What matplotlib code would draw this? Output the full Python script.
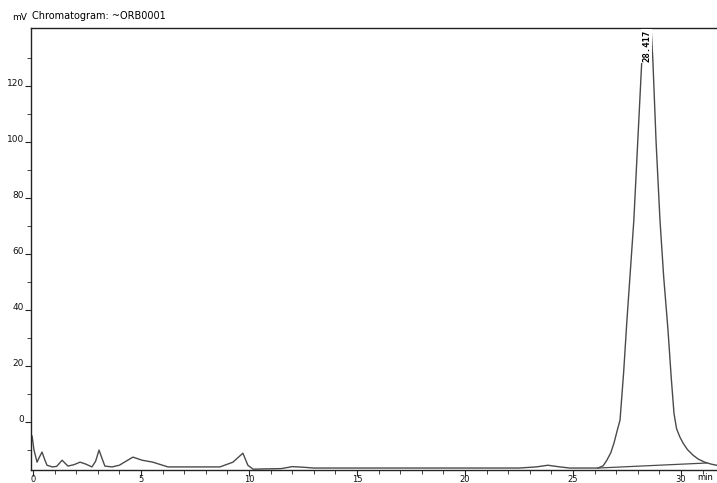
import matplotlib
matplotlib.use("Agg")
import matplotlib.pyplot as plt
from matplotlib.ticker import MultipleLocator, FixedLocator

# Chromatogram trace (time in min, signal in mV)
time_min = [-0.04, 0.05, 0.19, 0.30, 0.42, 0.55, 0.65, 0.90, 1.10, 1.35, 1.62,
            1.90, 2.18, 2.45, 2.73, 2.90, 3.06, 3.20, 3.33, 3.66, 4.00, 4.30,
            4.63, 5.05, 5.55, 6.25, 8.66, 9.26, 9.72, 9.95, 10.19, 11.5, 12.0,
            12.5, 13.0, 22.5, 23.3, 23.84, 24.4, 24.86,
            26.16, 26.40, 26.57, 26.75, 26.90, 27.05, 27.18, 27.35, 27.50,
            27.65, 27.82, 28.00, 28.19, 28.30, 28.42, 28.55, 28.70, 28.85,
            29.03, 29.20, 29.40, 29.55, 29.68, 29.80, 29.95, 30.10, 30.30,
            30.56, 30.80, 31.10, 31.40, 31.65]
signal_mv = [-5.0, -10.0, -14.3, -12.5, -10.7, -13.5, -15.4, -16.0, -15.8, -13.6,
             -15.7, -15.2, -14.3, -15.0, -16.0, -14.0, -10.0, -13.0, -15.7, -16.0,
             -15.4, -14.0, -12.5, -13.6, -14.3, -16.0, -16.0, -14.3, -11.1, -15.4,
             -16.8, -16.6, -15.9, -16.1, -16.4, -16.4, -16.0, -15.4, -16.0, -16.4,
             -16.4, -15.6, -13.6, -11.0, -7.5, -3.0, 0.7, 18.0, 36.4,
             53.0, 72.1, 100.0, 129.3, 150.0, 160.0, 150.0, 129.3, 100.0,
             72.1, 52.0, 33.0, 16.0, 3.0, -2.4, -5.3, -7.5, -9.8,
             -11.8, -13.2, -14.3, -15.0, -15.4]

# Integration baseline under the main peak
base_t = [26.16, 31.20]
base_v = [-16.4, -14.6]

y_major = [0, 20, 40, 60, 80, 100, 120]
y_minor = [-10, 10, 30, 50, 70, 90, 110, 130]

peak_rt = 28.417
peak_label = "28.417"
title = "Chromatogram: ~ORB0001"
y_unit = "mV"
x_unit = "min"

fig = plt.figure(figsize=(7.17, 4.83), dpi=100)
ax = fig.add_axes([31/717, 1-470/483, 1-31/717, (470-28)/483])

line_col = "#4a4a4a"
ax.plot(time_min, signal_mv, color=line_col, lw=1.0)
ax.plot(base_t, base_v, color=line_col, lw=0.9)

ax.set_xlim(-0.09, 31.67)
ax.set_ylim(-17.1, 140.7)

for s in ["left", "bottom", "top"]:
    ax.spines[s].set_color("#222222")
    ax.spines[s].set_linewidth(1.0)
ax.spines["right"].set_visible(False)

ax.xaxis.set_major_locator(MultipleLocator(5))
ax.xaxis.set_minor_locator(MultipleLocator(1))
ax.yaxis.set_major_locator(FixedLocator(y_major))
ax.yaxis.set_minor_locator(FixedLocator(y_minor))
ax.tick_params(axis="both", which="both", direction="out", color="#222222",
               labelsize=6.5, labelcolor="#111111")
ax.tick_params(axis="x", labelsize=6)
ax.tick_params(axis="y", which="major", length=4, pad=1)
ax.tick_params(axis="y", which="minor", length=3)
ax.tick_params(axis="x", which="major", length=4, pad=-0.5)
ax.tick_params(axis="x", which="minor", length=3)
for lab in ax.get_yticklabels():
    lab.set_verticalalignment("baseline")

fig.text(12/717, 1-18/483, y_unit, fontsize=6.5, va="center", ha="left")
fig.text(32/717, 1-16/483, title, fontsize=7, va="center", ha="left")
fig.text(713/717, 1-477/483, x_unit, fontsize=6, va="center", ha="right")

ax.text(peak_rt, 140.0, peak_label, rotation=90, ha="center", va="top",
        fontsize=6.5, family="DejaVu Sans Mono", fontweight="bold",
        bbox=dict(facecolor="white", edgecolor="none", pad=0.6),
        zorder=5, clip_on=False)

fig.savefig("out.png", dpi=100)
